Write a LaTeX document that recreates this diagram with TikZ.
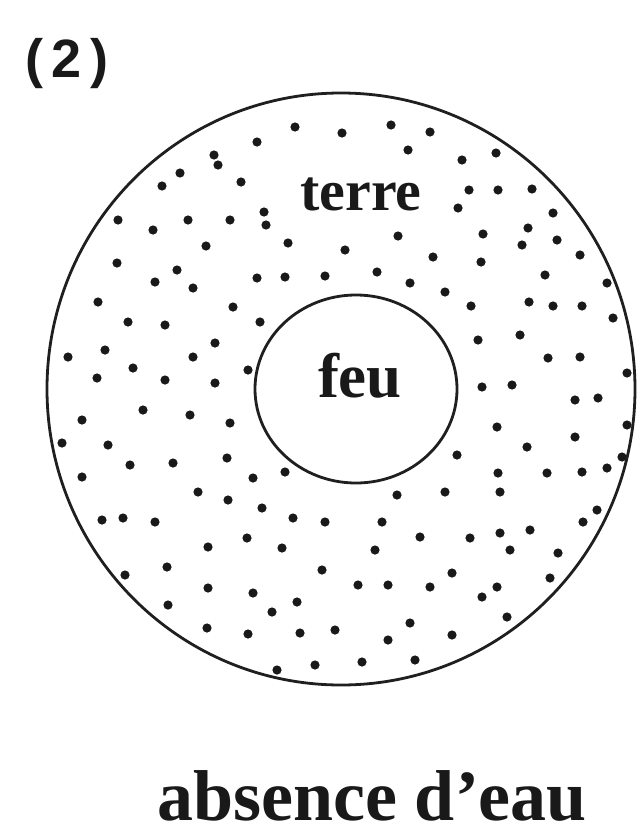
\documentclass[tikz,border=0pt]{standalone}
\usepackage{fontspec}
\setmainfont{Liberation Serif}
\newfontfamily\labelsans{Liberation Sans}
\begin{document}
\begin{tikzpicture}[x=1pt,y=-1pt,
  ring/.style={line width=2.8pt, draw=black!88},
  lbl/.style={anchor=base, inner sep=0pt, text=black!90}]
\useasboundingbox (0,0) rectangle (637,838);
% dots
\foreach \px/\py in {
(295,127),(257,142),(214,155),(218,165),(180,173),(162,186),(241,182),
(342,133),(391,125),(430,132),(408,150),(462,160),(496,153),
(230,220),(264,212),(266,225),(206,246),(288,243),(345,250),(398,236),(433,257),(458,208),(469,190),(483,234),(481,262),(498,190),
(257,278),(285,277),(325,276),(377,272),
(532,189),(553,213),(528,228),(557,240),(522,245),(580,255),
(410,283),(445,292),(545,275),(607,283),(529,302),(553,306),(582,306),(471,306),
(118,220),(153,230),(188,220),(117,263),(177,270),(155,282),(193,288),(98,302),(233,307),
(128,322),(165,325),(260,322),(68,357),(105,350),(215,343),(193,357),(133,368),(97,378),(165,380),(215,383),(248,370),
(143,410),(190,415),(230,423),(82,420),(62,443),(108,445),(130,465),(173,463),(227,458),(82,477),(253,478),(285,472),
(198,492),(228,500),(262,508),(102,520),(123,518),(155,522),(293,518),(325,522),
(208,547),(247,538),(282,548),(322,570),(167,567),(125,575),(208,588),(253,593),(297,602),(168,605),(272,612),(207,628),(248,634),(300,633),(277,670),(315,665),
(613,318),(478,340),(520,335),(548,358),(580,357),(627,373),(482,387),(512,385),(575,400),(598,398),(497,427),(527,447),(575,437),(627,425),
(457,455),(498,473),(500,492),(547,473),(582,472),(607,468),(622,457),(397,495),(445,492),(382,522),(597,510),(583,522),
(420,537),(470,538),(500,533),(530,530),(375,550),(510,550),(558,553),(358,585),(388,585),(430,587),(452,573),(497,587),(482,597),(550,578),(507,617),(335,630),(410,623),(452,635),(388,640),(362,662),(415,660)}
  { \fill[black!90] \px circle [radius=4.6pt]; }
% circles
\draw[ring] (341,389) ellipse [x radius=294pt, y radius=296pt];
\draw[ring] (356,389) ellipse [x radius=101pt, y radius=94pt];
% labels
\node[lbl, font=\labelsans\bfseries\fontsize{54}{60}\selectfont] (num) at (67,77) {(\hspace{9pt}2\hspace{9pt})};
\node[lbl, font=\bfseries\fontsize{58}{64}\selectfont] (terre) at (361,210) {terre};
\node[lbl, font=\bfseries\fontsize{63}{70}\selectfont] (feu) at (360,397) {feu};
\node[lbl, font=\bfseries\fontsize{72}{78}\selectfont] (caption) at (372,820) {absence d’eau};
\end{tikzpicture}
\end{document}
